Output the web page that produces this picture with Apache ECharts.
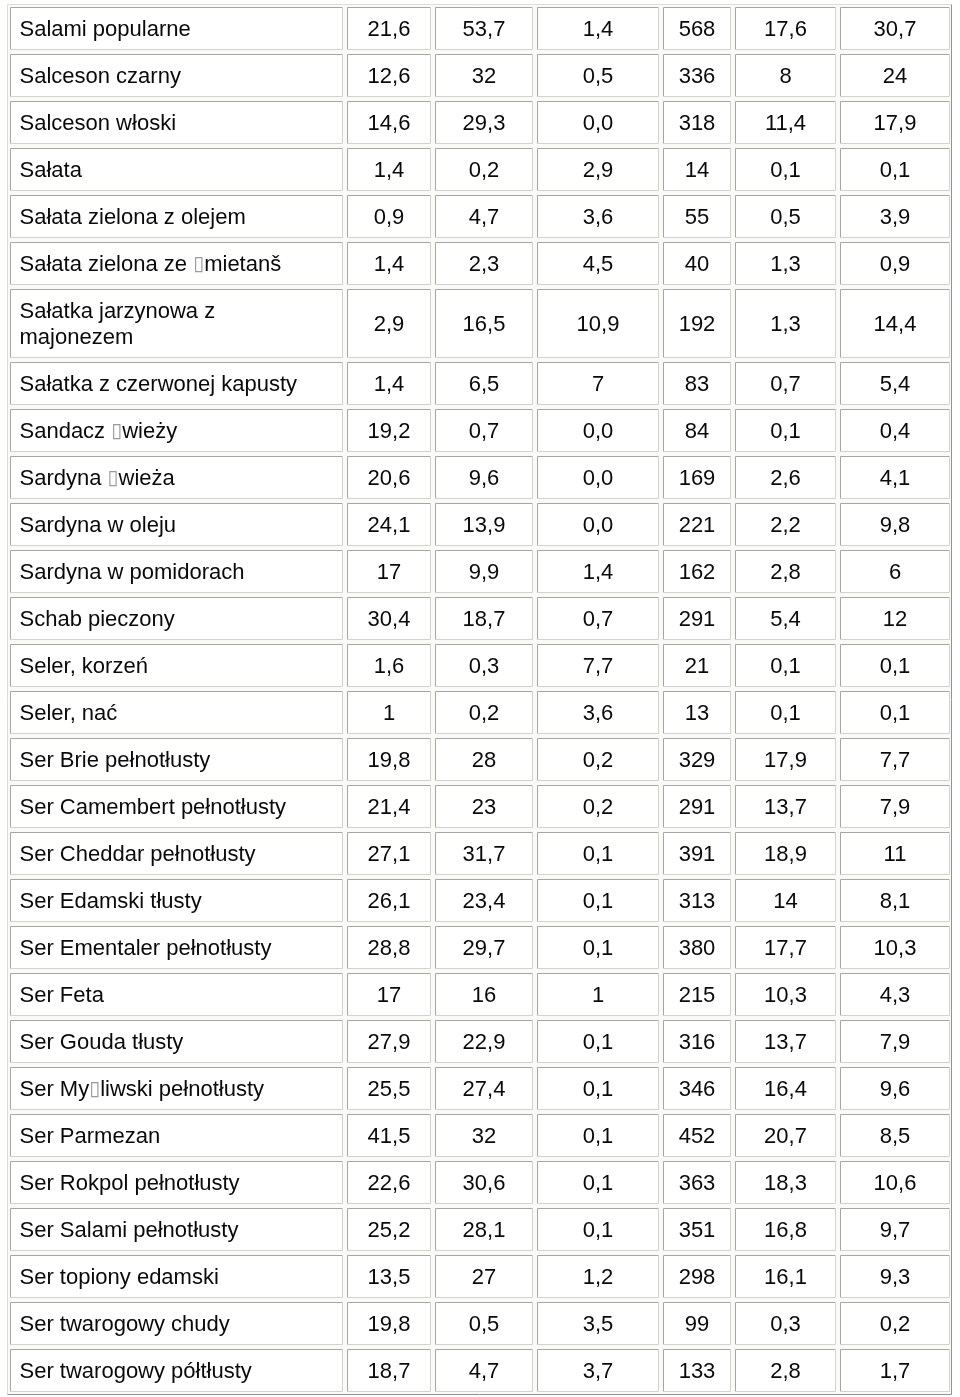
<!DOCTYPE html>
<html><head><meta charset="utf-8">
<script src="https://cdn.jsdelivr.net/npm/echarts@6/dist/echarts.min.js"></script>
<style>html,body{margin:0;padding:0;background:#fff}#c{width:960px;height:1397px}</style>
</head><body><div id="c"></div>
<script>
const names = [
  'Salami popularne','Salceson czarny','Salceson włoski','Sałata','Sałata zielona z olejem',
  'Sałata zielona ze □mietanš','Sałatka jarzynowa z\nmajonezem','Sałatka z czerwonej kapusty',
  'Sandacz □wieży','Sardyna □wieża','Sardyna w oleju','Sardyna w pomidorach','Schab pieczony',
  'Seler, korzeń','Seler, nać','Ser Brie pełnotłusty','Ser Camembert pełnotłusty',
  'Ser Cheddar pełnotłusty','Ser Edamski tłusty','Ser Ementaler pełnotłusty','Ser Feta',
  'Ser Gouda tłusty','Ser My□liwski pełnotłusty','Ser Parmezan','Ser Rokpol pełnotłusty',
  'Ser Salami pełnotłusty','Ser topiony edamski','Ser twarogowy chudy','Ser twarogowy półtłusty'
];
const protein = ['21,6','12,6','14,6','1,4','0,9','1,4','2,9','1,4','19,2','20,6','24,1','17','30,4','1,6','1','19,8','21,4','27,1','26,1','28,8','17','27,9','25,5','41,5','22,6','25,2','13,5','19,8','18,7'];
const fat     = ['53,7','32','29,3','0,2','4,7','2,3','16,5','6,5','0,7','9,6','13,9','9,9','18,7','0,3','0,2','28','23','31,7','23,4','29,7','16','22,9','27,4','32','30,6','28,1','27','0,5','4,7'];
const carbs   = ['1,4','0,5','0,0','2,9','3,6','4,5','10,9','7','0,0','0,0','0,0','1,4','0,7','7,7','3,6','0,2','0,2','0,1','0,1','0,1','1','0,1','0,1','0,1','0,1','0,1','1,2','3,5','3,7'];
const kcal    = ['568','336','318','14','55','40','192','83','84','169','221','162','291','21','13','329','291','391','313','380','215','316','346','452','363','351','298','99','133'];
const satFat  = ['17,6','8','11,4','0,1','0,5','1,3','1,3','0,7','0,1','2,6','2,2','2,8','5,4','0,1','0,1','17,9','13,7','18,9','14','17,7','10,3','13,7','16,4','20,7','18,3','16,8','16,1','0,3','2,8'];
const otherFat= ['30,7','24','17,9','0,1','3,9','0,9','14,4','5,4','0,4','4,1','9,8','6','12','0,1','0,1','7,7','7,9','11','8,1','10,3','4,3','7,9','9,6','8,5','10,6','9,7','9,3','0,2','1,7'];
const columns = [names, protein, fat, carbs, kcal, satFat, otherFat];

// ---- layout ----
const colWidths = [333, 84, 98, 122, 68, 101, 110];
const gap = 4, lineH = 26, rowBase = 21, pad = 9;

const colStart = [];
{ let x = 0; colWidths.forEach((w, i) => { colStart.push(x); x += w + gap; }); }
const rowStart = [], rowH = [];
{ let y = 0; names.forEach(n => { const lines = n.split('\n').length; const p = rowBase + lines * lineH; rowStart.push(y); rowH.push(p - gap); y += p; }); }
const totalW = colStart[colStart.length - 1] + colWidths[colWidths.length - 1];
const totalH = rowStart[rowStart.length - 1] + rowH[rowH.length - 1];

const cells = [];
names.forEach((n, r) => {
  columns.forEach((col, c) => {
    cells.push([colStart[c], rowStart[r], colWidths[c], rowH[r], r, c]);
  });
});

function richText(s) { return s.replace(/□/g, '{b|\u25AF}'); }

const FONT = '"Liberation Sans", Arial, Helvetica, sans-serif';

const chart = echarts.init(document.getElementById('c'), null, { renderer: 'canvas' });
chart.setOption({
  animation: false,
  backgroundColor: '#ffffff',
  grid: { left: 10, top: 7, width: totalW, height: totalH, containLabel: false },
  xAxis: { type: 'value', min: 0, max: totalW, show: false },
  yAxis: { type: 'value', min: 0, max: totalH, inverse: true, show: false },
  series: [
    {
      type: 'custom', silent: true, z: 1,
      data: [[-3, -3, totalW + 5, totalH + 6]],
      renderItem: function (params, api) {
        const p0 = api.coord([api.value(0), api.value(1)]);
        const p1 = api.coord([api.value(0) + api.value(2), api.value(1) + api.value(3)]);
        const L = Math.round(p0[0]) + 0.5, T = Math.round(p0[1]) + 0.5;
        const R = Math.round(p1[0]) - 0.5, B = Math.round(p1[1]) - 0.5;
        return { type: 'group', children: [
          { type: 'rect', shape: { x: L, y: T, width: R - L, height: B - T }, style: { fill: '#fafaf7' } },
          { type: 'polyline', shape: { points: [[L, B], [L, T], [R, T]] }, style: { stroke: '#deded9', lineWidth: 1, fill: null } },
          { type: 'polyline', shape: { points: [[R, T], [R, B], [L, B]] }, style: { stroke: '#929290', lineWidth: 1, fill: null } }
        ]};
      }
    },
    {
      type: 'custom', silent: true, z: 2,
      data: cells,
      renderItem: function (params, api) {
        const p0 = api.coord([api.value(0), api.value(1)]);
        const p1 = api.coord([api.value(0) + api.value(2), api.value(1) + api.value(3)]);
        const r = api.value(4), c = api.value(5);
        const L = Math.round(p0[0]) + 0.5, T = Math.round(p0[1]) + 0.5;
        const R = Math.round(p1[0]) - 0.5, B = Math.round(p1[1]) - 0.5;
        const txt = richText(columns[c][r]);
        const left = c === 0;
        return { type: 'group', children: [
          { type: 'rect', shape: { x: L, y: T, width: R - L, height: B - T }, style: { fill: '#ffffff' } },
          { type: 'polyline', shape: { points: [[L, B], [L, T], [R, T]] }, style: { stroke: '#a6a6a3', lineWidth: 1, fill: null } },
          { type: 'polyline', shape: { points: [[R, T], [R, B], [L, B]] }, style: { stroke: '#d2d2ce', lineWidth: 1, fill: null } },
          { type: 'text', style: {
              text: txt,
              x: left ? L + pad : (L + R) / 2,
              y: (T + B) / 2 + 1.5,
              fill: '#0a0a0a',
              fontSize: 22,
              fontFamily: FONT,
              lineHeight: lineH,
              align: left ? 'left' : 'center',
              textAlign: left ? 'left' : 'center',
              verticalAlign: 'middle',
              textVerticalAlign: 'middle',
              rich: { b: { fill: '#9a9a9a', fontSize: 20, fontFamily: '"DejaVu Sans", sans-serif', lineHeight: lineH } }
          } }
        ]};
      }
    }
  ]
});
</script>
</body></html>
